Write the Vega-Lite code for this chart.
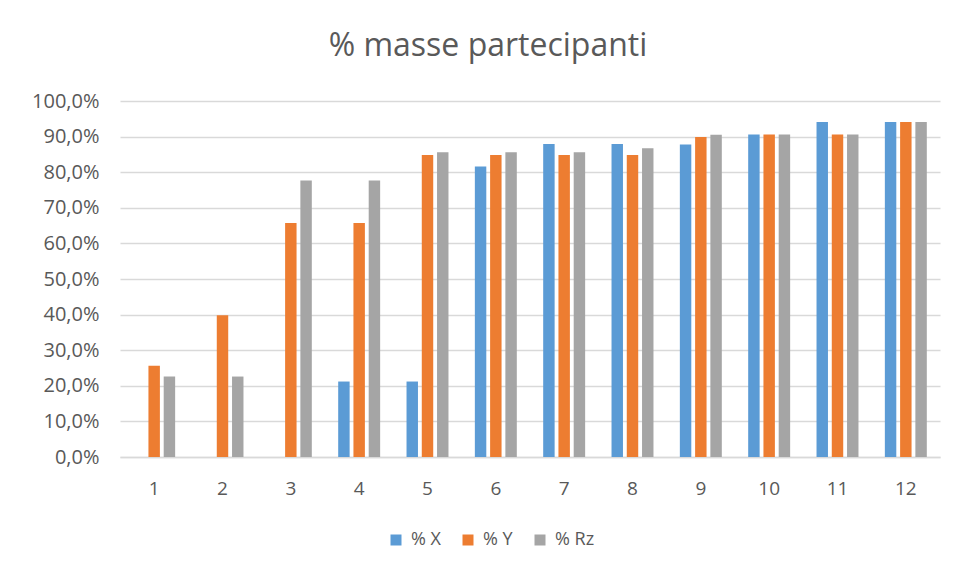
{
  "$schema": "https://vega.github.io/schema/vega-lite/v6.json",
  "autosize": {"type": "none"},
  "padding": {"left": 120, "top": 101, "right": 18, "bottom": 118},
  "width": 820,
  "height": 356,
  "background": "white",
  "title": {"text": "% masse partecipanti", "fontSize": 32, "font": "Open Sans", "fontWeight": "normal", "color": "#595959", "anchor": "middle", "dx": -42, "offset": 28},
  "data": {"values": [
    {"g": "1", "s": "% X", "v": 0}, {"g": "1", "s": "% Y", "v": 0.256}, {"g": "1", "s": "% Rz", "v": 0.226},
    {"g": "2", "s": "% X", "v": 0}, {"g": "2", "s": "% Y", "v": 0.398}, {"g": "2", "s": "% Rz", "v": 0.226},
    {"g": "3", "s": "% X", "v": 0}, {"g": "3", "s": "% Y", "v": 0.657}, {"g": "3", "s": "% Rz", "v": 0.777},
    {"g": "4", "s": "% X", "v": 0.212}, {"g": "4", "s": "% Y", "v": 0.657}, {"g": "4", "s": "% Rz", "v": 0.777},
    {"g": "5", "s": "% X", "v": 0.212}, {"g": "5", "s": "% Y", "v": 0.848}, {"g": "5", "s": "% Rz", "v": 0.856},
    {"g": "6", "s": "% X", "v": 0.816}, {"g": "6", "s": "% Y", "v": 0.848}, {"g": "6", "s": "% Rz", "v": 0.856},
    {"g": "7", "s": "% X", "v": 0.879}, {"g": "7", "s": "% Y", "v": 0.848}, {"g": "7", "s": "% Rz", "v": 0.856},
    {"g": "8", "s": "% X", "v": 0.879}, {"g": "8", "s": "% Y", "v": 0.848}, {"g": "8", "s": "% Rz", "v": 0.867},
    {"g": "9", "s": "% X", "v": 0.878}, {"g": "9", "s": "% Y", "v": 0.899}, {"g": "9", "s": "% Rz", "v": 0.905},
    {"g": "10", "s": "% X", "v": 0.906}, {"g": "10", "s": "% Y", "v": 0.906}, {"g": "10", "s": "% Rz", "v": 0.906},
    {"g": "11", "s": "% X", "v": 0.941}, {"g": "11", "s": "% Y", "v": 0.906}, {"g": "11", "s": "% Rz", "v": 0.906},
    {"g": "12", "s": "% X", "v": 0.941}, {"g": "12", "s": "% Y", "v": 0.941}, {"g": "12", "s": "% Rz", "v": 0.941}
  ]},
  "mark": {"type": "bar"},
  "encoding": {
    "x": {
      "field": "g", "type": "ordinal", "sort": null,
      "scale": {"paddingInner": 0.386, "paddingOuter": 0.193},
      "axis": {"title": null, "labelAngle": 0, "ticks": false, "labelPadding": 22, "labelFontSize": 19, "labelFont": "Open Sans", "labelColor": "#595959", "domainColor": "#D9D9D9", "domainWidth": 1.5, "grid": false}
    },
    "xOffset": {"field": "s", "type": "nominal", "sort": ["% X", "% Y", "% Rz"], "scale": {"paddingInner": 0.25}},
    "y": {
      "field": "v", "type": "quantitative",
      "scale": {"domain": [0, 1], "nice": false},
      "axis": {"title": null, "values": [0, 0.1, 0.2, 0.3, 0.4, 0.5, 0.6, 0.7, 0.8, 0.9, 1], "labelExpr": "replace(format(datum.value, '.1%'), '.', ',')", "domain": false, "ticks": false, "labelPadding": 21, "labelFontSize": 20, "labelFont": "Open Sans", "labelColor": "#595959", "gridColor": "#D9D9D9", "gridWidth": 1.5}
    },
    "color": {
      "field": "s", "type": "nominal", "sort": ["% X", "% Y", "% Rz"],
      "scale": {"domain": ["% X", "% Y", "% Rz"], "range": ["#5B9BD5", "#ED7D31", "#A5A5A5"]},
      "legend": {"title": null, "orient": "none", "direction": "horizontal", "legendX": 267, "legendY": 430, "symbolType": "square", "symbolSize": 121, "symbolStrokeWidth": 0, "labelFontSize": 18, "labelFont": "Open Sans", "labelColor": "#595959", "columnPadding": 18, "labelOffset": 6}
    }
  },
  "config": {"view": {"stroke": null}}
}
